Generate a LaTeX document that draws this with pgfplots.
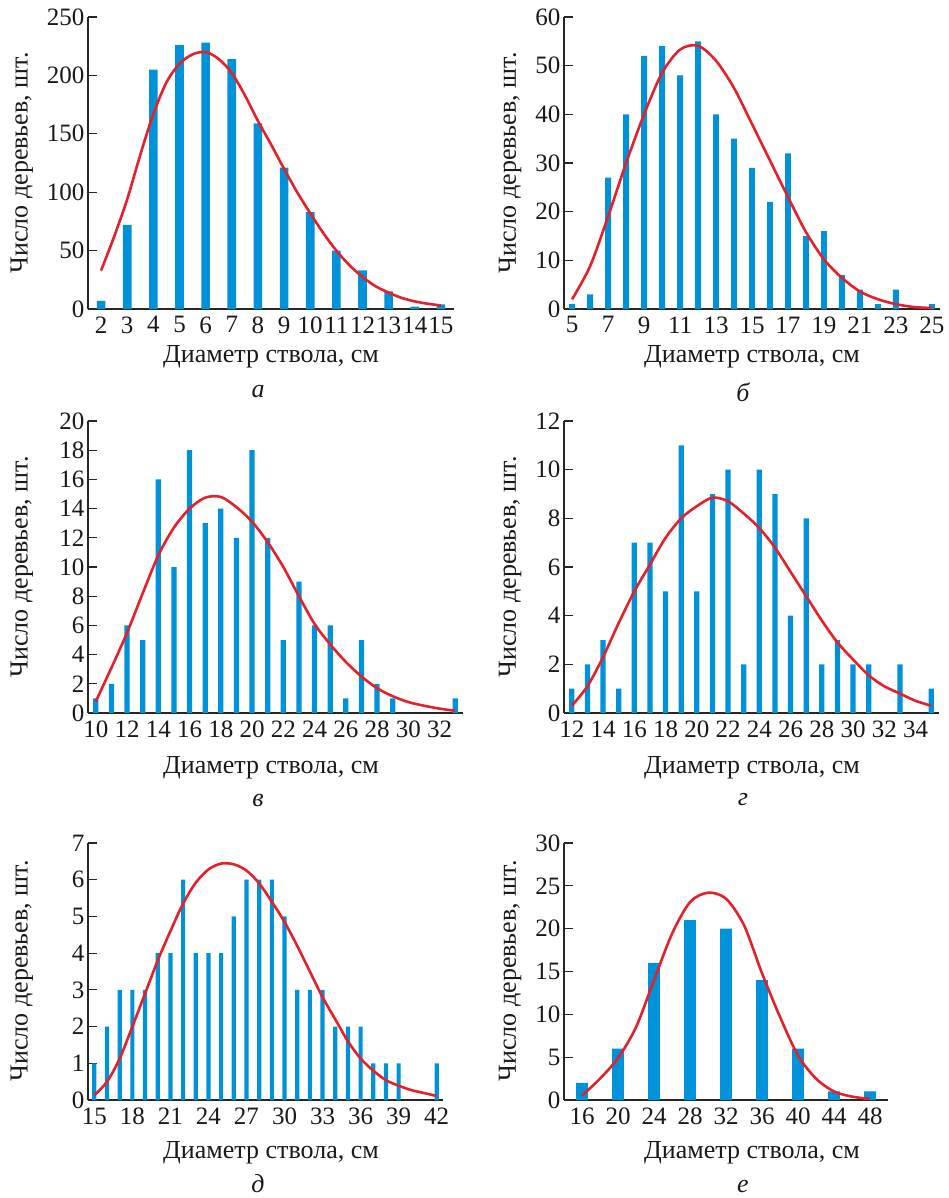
\documentclass[border=0pt]{standalone}
\usepackage{pgfplots}
\pgfplotsset{compat=1.18}
\usepackage{fontspec}
\setmainfont{Liberation Serif}
\definecolor{barblue}{RGB}{0,146,216}
\definecolor{curvered}{RGB}{229,32,42}
\newcommand{\bigf}{\fontsize{25}{28}\selectfont}
\newcommand{\labf}{\fontsize{26}{29}\selectfont}
\pgfplotsset{panel/.style={
  scale only axis, axis lines=left,
  axis line style={-, line width=1.1pt, draw=black!85},
  ymin=0, tick align=inside, major tick length=9pt,
  xtick style={draw=none},
  ytick style={line width=1.1pt, draw=black!85},
  tick label style={font=\bigf, text=black!90},
  xticklabel style={yshift=-4pt},
  /pgf/number format/assume math mode=true,
  anchor=south west},
  bars/.style={ybar, fill=barblue, draw=none},
  curve/.style={curvered, line width=2.6pt, smooth, no marks}
}
\begin{document}
\begin{tikzpicture}[x=1pt,y=1pt]
\useasboundingbox (0pt,0pt) rectangle (948pt,-1198pt);
% ---------- a
\begin{axis}[panel, at={(88pt,-309pt)}, width=366pt, height=292pt,
  xmin=1.5, xmax=15.5, xtick={2,...,15}, ymax=250, ytick={0,50,...,250}]
\addplot[bars, bar width=0.33] coordinates {(2,7)(3,72)(4,205)(5,226)(6,228)(7,214)(8,159)(9,121)(10,83)(11,50)(12,33)(13,15)(14,2)(15,4)};
\addplot[curve] coordinates {(2,33)(2.5,62)(3,94)(3.5,132)(4,167)(4.5,194)(5,210)(5.5,218)(6,220)(6.5,214)(7,202)(7.5,183)(8,161)(8.5,141)(9,120)(9.5,100)(10,82)(10.5,65)(11,50)(11.5,37.5)(12,27.5)(12.5,19.5)(13,14)(13.5,9.5)(14,6.5)(14.5,4.5)(15,3)};
\end{axis}
% ---------- b
\begin{axis}[panel, at={(564pt,-309pt)}, width=376pt, height=292pt,
  xmin=4.55, xmax=25.45, xtick={5,7,...,23,25}, ymax=60, ytick={0,10,...,60}]
\addplot[bars, bar width=0.33] coordinates {(5,1)(6,3)(7,27)(8,40)(9,52)(10,54)(11,48)(12,55)(13,40)(14,35)(15,29)(16,22)(17,32)(18,15)(19,16)(20,7)(21,4)(22,1)(23,4)(25,1)};
\addplot[curve] coordinates {(5,2.0)(6,8.8)(7,19)(8,30)(9,40)(10,48.5)(11,53.3)(12,54.1)(13,51)(14,45.4)(15,38)(16,30.5)(17,23)(18,15.8)(19,10.2)(20,6.4)(21,3.6)(22,2.0)(23,1.0)(24,0.4)(25,0.2)};
\end{axis}
% ---------- v
\begin{axis}[panel, at={(88pt,-713pt)}, width=375pt, height=292pt,
  xmin=9.5, xmax=33.5, xtick={10,12,...,32}, ymax=20, ytick={0,2,...,20}]
\addplot[bars, bar width=0.33] coordinates {(10,1)(11,2)(12,6)(13,5)(14,16)(15,10)(16,18)(17,13)(18,14)(19,12)(20,18)(21,12)(22,5)(23,9)(24,6)(25,6)(26,1)(27,5)(28,2)(29,1)(33,1)};
\addplot[curve] coordinates {(10,0.8)(11,3.1)(12,5.5)(13,8.2)(14,10.8)(15,12.7)(16,14.0)(17,14.75)(18,14.8)(19,14.1)(20,13.1)(21,11.7)(22,10.0)(23,8.0)(24,6.1)(25,4.7)(26,3.5)(27,2.5)(28,1.7)(29,1.15)(30,0.75)(31,0.5)(32,0.3)(33,0.15)};
\end{axis}
% ---------- g
\begin{axis}[panel, at={(564pt,-713pt)}, width=375pt, height=292pt,
  xmin=11.5, xmax=35.5, xtick={12,14,...,34}, ymax=12, ytick={0,2,...,12}]
\addplot[bars, bar width=0.33] coordinates {(12,1)(13,2)(14,3)(15,1)(16,7)(17,7)(18,5)(19,11)(20,5)(21,9)(22,10)(23,2)(24,10)(25,9)(26,4)(27,8)(28,2)(29,3)(30,2)(31,2)(33,2)(35,1)};
\addplot[curve] coordinates {(12,0.3)(13,1.1)(14,2.3)(15,3.7)(16,5.0)(17,6.1)(18,7.2)(19,8.0)(20,8.5)(21,8.85)(22,8.7)(23,8.2)(24,7.6)(25,6.8)(26,5.8)(27,4.8)(28,3.8)(29,2.9)(30,2.2)(31,1.55)(32,1.1)(33,0.8)(34,0.5)(35,0.3)};
\end{axis}
% ---------- d
\begin{axis}[panel, at={(88pt,-1100pt)}, width=355pt, height=257pt,
  xmin=14.5, xmax=42.5, xtick={15,18,...,42}, ymax=7, ytick={0,1,...,7}]
\addplot[bars, bar width=0.33] coordinates {(15,1)(16,2)(17,3)(18,3)(19,3)(20,4)(21,4)(22,6)(23,4)(24,4)(25,4)(26,5)(27,6)(28,6)(29,6)(30,5)(31,3)(32,3)(33,3)(34,2)(35,2)(36,2)(37,1)(38,1)(39,1)(42,1)};
\addplot[curve] coordinates {(15,0.13)(16,0.5)(17,1.13)(18,2.0)(19,2.9)(20,3.8)(21,4.6)(22,5.35)(23,5.92)(24,6.28)(25,6.44)(26,6.42)(27,6.25)(28,5.9)(29,5.4)(30,4.85)(31,4.2)(32,3.5)(33,2.8)(34,2.2)(35,1.6)(36,1.13)(37,0.8)(38,0.54)(39,0.39)(40,0.27)(41,0.19)(42,0.11)};
\end{axis}
% ---------- e
\begin{axis}[panel, at={(564pt,-1100pt)}, width=324pt, height=257pt,
  xmin=14, xmax=50, xtick={16,20,...,48}, ymax=30, ytick={0,5,...,30}]
\addplot[bars, bar width=1.33] coordinates {(16,2)(20,6)(24,16)(28,21)(32,20)(36,14)(40,6)(44,1)(48,1)};
\addplot[curve] coordinates {(16,0.5)(18,2.5)(20,4.9)(22,8.5)(24,14)(26,19.4)(28,23.1)(30,24.2)(32,23.5)(34,20.4)(36,14.8)(38,9.7)(40,5.2)(42,2.5)(44,1.0)(46,0.4)(48,0.12)};
\end{axis}
% ---------- labels
\foreach \cx/\cy/\lx/\ly/\lt/\yx/\yy in {
  271/-357/258/-392/а/22/-163,
  752/-357/743/-392/б/510/-163,
  271/-768/258/-800/в/22/-567,
  752/-768/743/-800/г/510/-567,
  271/-1153/258/-1184/д/22/-971,
  752/-1153/743/-1186/е/510/-971}{
  \node[font=\labf, text=black!90] at (\cx pt,\cy pt) {Диаметр ствола, см};
  \node[font=\labf\itshape, text=black!90] at (\lx pt,\ly pt) {\lt};
  \node[font=\labf, text=black!90, rotate=90] at (\yx pt,\yy pt) {Число деревьев, шт.};
}
\end{tikzpicture}
\end{document}
